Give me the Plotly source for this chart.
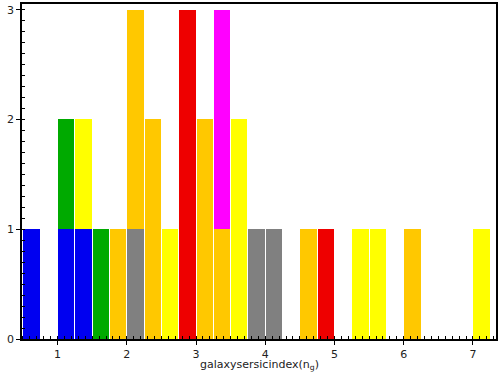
import plotly.graph_objects as go

# Histogram bins (left edges), width 0.25
bin_left = [0.5, 0.75, 1.0, 1.25, 1.5, 1.75, 2.0, 2.25, 2.5, 2.75, 3.0, 3.25, 3.5, 3.75,
            4.0, 4.25, 4.5, 4.75, 5.0, 5.25, 5.5, 5.75, 6.0, 6.25, 6.5, 6.75, 7.0]
bin_width = 0.25

# Counts per colour group, one per bin
blue    = [1, 0, 1, 1, 0, 0, 0, 0, 0, 0, 0, 0, 0, 0, 0, 0, 0, 0, 0, 0, 0, 0, 0, 0, 0, 0, 0]
gray    = [0, 0, 0, 0, 0, 0, 1, 0, 0, 0, 0, 0, 0, 1, 1, 0, 0, 0, 0, 0, 0, 0, 0, 0, 0, 0, 0]
orange  = [0, 0, 0, 0, 0, 1, 2, 2, 0, 0, 2, 1, 0, 0, 0, 0, 1, 0, 0, 0, 0, 0, 1, 0, 0, 0, 0]
green   = [0, 0, 1, 0, 1, 0, 0, 0, 0, 0, 0, 0, 0, 0, 0, 0, 0, 0, 0, 0, 0, 0, 0, 0, 0, 0, 0]
yellow  = [0, 0, 0, 1, 0, 0, 0, 0, 1, 0, 0, 0, 2, 0, 0, 0, 0, 0, 0, 1, 1, 0, 0, 0, 0, 0, 1]
red     = [0, 0, 0, 0, 0, 0, 0, 0, 0, 3, 0, 0, 0, 0, 0, 0, 0, 1, 0, 0, 0, 0, 0, 0, 0, 0, 0]
magenta = [0, 0, 0, 0, 0, 0, 0, 0, 0, 0, 0, 2, 0, 0, 0, 0, 0, 0, 0, 0, 0, 0, 0, 0, 0, 0, 0]

x_title = "galaxysersicindex(n<sub>g</sub>)"

series = [
    ("blue", blue, "#0000F0"),
    ("gray", gray, "#808080"),
    ("orange", orange, "#FFC800"),
    ("green", green, "#00AA00"),
    ("yellow", yellow, "#FFFF00"),
    ("red", red, "#EE0000"),
    ("magenta", magenta, "#FF00FF"),
]

centers = [b + bin_width / 2 for b in bin_left]

fig = go.Figure()
for name, vals, col in series:
    fig.add_trace(go.Bar(
        x=centers, y=vals, width=bin_width * 0.94, name=name,
        marker=dict(color=col, line=dict(width=0)),
        showlegend=False,
    ))

font = dict(family="DejaVu Sans", size=11, color="#222")
fig.update_layout(
    barmode="stack",
    width=500, height=374,
    margin=dict(l=22, r=4, t=4, b=35),
    plot_bgcolor="white", paper_bgcolor="white",
    font=font,
)
fig.update_xaxes(
    range=[0.486, 7.333], tickmode="array", tickvals=[1, 2, 3, 4, 5, 6, 7],
    showgrid=False, zeroline=False, automargin=False,
    showline=True, linecolor="black", linewidth=1.5, mirror=True,
    ticks="outside", ticklen=4, tickcolor="black", tickwidth=1,
    minor=dict(dtick=0.1, tick0=0, ticks="inside", ticklen=3, tickcolor="black", showgrid=False),
    tickfont=dict(size=11),
)
fig.update_yaxes(
    range=[0, 3.052], tickmode="array", tickvals=[0, 1, 2, 3],
    showgrid=False, zeroline=False, automargin=False,
    showline=True, linecolor="black", linewidth=1.5, mirror=True,
    ticks="outside", ticklen=4, tickcolor="black", tickwidth=1,
    minor=dict(dtick=0.1, tick0=0, ticks="inside", ticklen=3, tickcolor="black", showgrid=False),
    tickfont=dict(size=11),
)
fig.add_annotation(
    text=x_title, xref="paper", yref="paper", x=0.5, y=-0.078,
    xanchor="center", yanchor="middle", showarrow=False, font=dict(size=11),
)

fig.write_html(
    "out.html",
    config={"displayModeBar": False},
    post_script="document.body.style.margin='0';document.body.style.overflow='hidden';",
)
